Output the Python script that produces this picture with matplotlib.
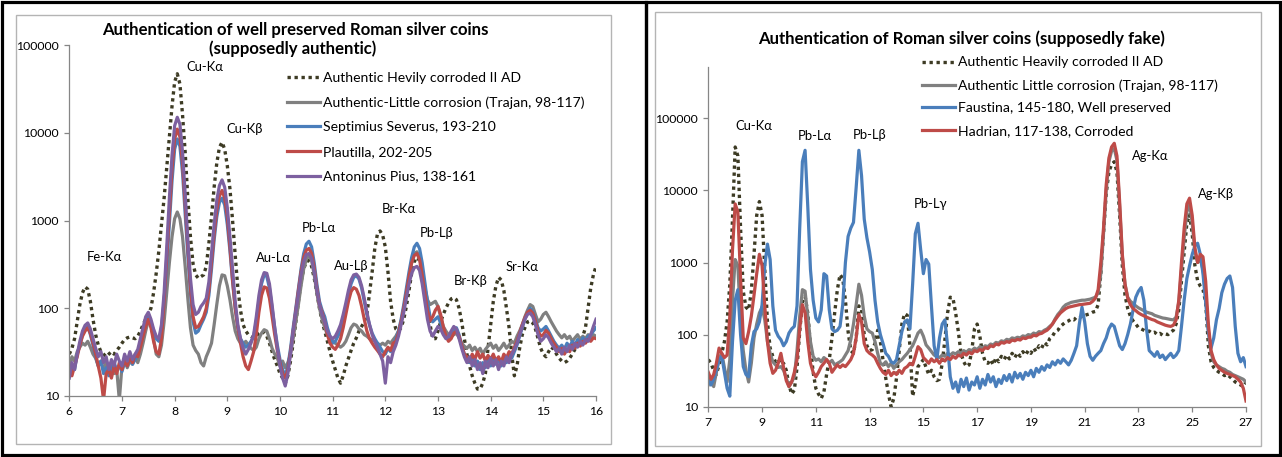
import numpy as np
import matplotlib
matplotlib.use("Agg")
import matplotlib.pyplot as plt
from matplotlib.patches import Rectangle

W, H = 1282, 457
FONT = ['Lato', 'DejaVu Sans']
plt.rcParams['font.family'] = FONT

# ---------------- left chart: 6 - 16 keV, 0.05 keV per channel ----------------
kev_left = np.round(np.arange(6.0, 16.0001, 0.05), 2)

heavy_left = [
    30, 35, 45, 70, 110, 150, 175, 165, 120, 75, 50, 38, 32, 30, 28, 30, 32, 30, 33, 36,
    40, 44, 46, 47, 46, 45, 48, 55, 65, 75, 85, 100, 150, 250, 450, 900, 1800, 4000, 9000, 20000,
    38000, 47000, 36000, 16000, 6000, 1800, 650, 320, 240, 220, 230, 240, 300, 550, 1100, 2400, 4500, 6800, 7800, 6500,
    4200, 2300, 1000, 400, 170, 95, 65, 55, 50, 48, 46, 48, 52, 55, 52, 48, 40, 32, 26, 22,
    18, 16, 14, 17, 25, 40, 70, 120, 200, 280, 340, 350, 300, 220, 150, 100, 70, 55, 42, 32,
    25, 20, 16, 14, 17, 22, 27, 33, 40, 46, 55, 62, 70, 85, 150, 260, 480, 700, 760, 680,
    500, 260, 120, 75, 58, 55, 60, 75, 105, 160, 250, 340, 380, 350, 250, 160, 100, 65, 45, 45,
    55, 70, 85, 100, 115, 128, 132, 125, 100, 70, 45, 30, 22, 17, 14, 12, 12, 14, 18, 35,
    65, 120, 180, 225, 210, 160, 100, 60, 30, 17, 22, 35, 50, 60, 70, 72, 68, 58, 45, 35,
    30, 28, 32, 36, 34, 30, 27, 25, 24, 25, 27, 30, 34, 38, 42, 48, 60, 100, 170, 240,
    300]

trajan_left = [
    22, 28, 25, 32, 36, 40, 38, 42, 36, 30, 27, 22, 25, 20, 24, 19, 22, 18, 20, 9,
    22, 26, 21, 25, 23, 28, 24, 30, 40, 55, 72, 65, 45, 30, 28, 38, 70, 150, 330, 650,
    1050, 1250, 1050, 650, 300, 130, 60, 38, 33, 30, 24, 22, 28, 33, 40, 65, 110, 180, 240, 235,
    180, 125, 80, 55, 45, 40, 38, 42, 38, 35, 33, 36, 45, 52, 57, 55, 45, 35, 30, 27,
    22, 25, 21, 24, 30, 45, 70, 110, 180, 280, 360, 400, 350, 240, 150, 100, 75, 60, 50, 45,
    42, 40, 38, 36, 38, 42, 50, 60, 66, 64, 58, 55, 50, 48, 45, 44, 42, 40, 38, 40,
    38, 42, 40, 44, 48, 55, 70, 100, 150, 230, 330, 420, 440, 380, 260, 170, 125, 110, 115, 120,
    105, 80, 62, 55, 50, 48, 50, 52, 46, 40, 37, 35, 38, 33, 36, 32, 35, 30, 34, 37,
    40, 35, 38, 33, 36, 40, 35, 38, 42, 40, 48, 55, 65, 80, 95, 110, 105, 85, 70, 75,
    85, 90, 80, 70, 62, 55, 50, 46, 50, 45, 48, 42, 46, 50, 44, 48, 45, 50, 46, 50,
    48]

severus_left = [
    18, 22, 20, 30, 38, 50, 58, 62, 50, 38, 28, 22, 25, 18, 21, 17, 20, 24, 20, 22,
    19, 24, 22, 27, 23, 26, 30, 38, 52, 70, 82, 70, 55, 45, 42, 60, 120, 300, 900, 2800,
    6500, 8500, 7000, 3500, 1200, 400, 150, 70, 52, 55, 65, 75, 90, 140, 280, 600, 1100, 1600, 1800, 1500,
    900, 450, 200, 100, 60, 45, 40, 36, 38, 42, 48, 70, 120, 190, 240, 230, 170, 100, 60, 38,
    26, 20, 17, 22, 35, 60, 100, 170, 280, 420, 540, 580, 500, 330, 190, 120, 95, 80, 60, 48,
    40, 42, 48, 55, 70, 95, 140, 190, 225, 235, 215, 170, 120, 85, 65, 52, 45, 40, 36, 32,
    30, 35, 32, 38, 45, 55, 75, 110, 170, 260, 380, 500, 550, 480, 330, 200, 120, 80, 70, 75,
    80, 68, 55, 48, 45, 48, 55, 60, 50, 38, 30, 26, 24, 27, 22, 25, 20, 24, 21, 26,
    22, 27, 23, 26, 22, 28, 24, 30, 27, 32, 38, 48, 60, 75, 90, 100, 92, 75, 60, 55,
    58, 62, 55, 48, 42, 38, 35, 38, 34, 40, 36, 42, 38, 44, 40, 46, 42, 48, 50, 55,
    60]

plautilla_left = [
    20, 17, 22, 28, 38, 48, 55, 60, 52, 40, 30, 22, 16, 9, 18, 20, 16, 22, 18, 24,
    20, 26, 22, 28, 24, 30, 28, 36, 48, 62, 75, 60, 42, 32, 30, 45, 120, 380, 1200, 3800,
    8500, 11000, 9000, 4500, 1500, 480, 170, 80, 60, 62, 70, 80, 100, 160, 330, 700, 1300, 1900, 2200, 1800,
    1100, 500, 210, 100, 60, 40, 28, 22, 20, 25, 32, 50, 90, 140, 175, 170, 130, 80, 50, 33,
    24, 18, 16, 20, 32, 55, 95, 160, 260, 380, 460, 480, 420, 290, 170, 110, 90, 70, 50, 40,
    36, 34, 38, 45, 60, 85, 120, 155, 172, 165, 140, 105, 75, 55, 45, 40, 36, 33, 30, 28,
    32, 36, 33, 40, 42, 52, 70, 100, 150, 230, 330, 400, 420, 360, 240, 150, 95, 72, 80, 95,
    105, 85, 62, 48, 42, 45, 52, 55, 48, 38, 30, 28, 25, 30, 26, 32, 27, 30, 25, 29,
    26, 30, 25, 28, 24, 30, 27, 32, 30, 36, 42, 52, 65, 78, 90, 95, 88, 72, 55, 48,
    50, 56, 52, 45, 40, 36, 32, 35, 30, 34, 32, 38, 35, 40, 37, 42, 40, 44, 42, 46,
    45]

antoninus_left = [
    16, 24, 20, 30, 42, 55, 64, 68, 58, 45, 35, 28, 32, 24, 28, 20, 26, 22, 30, 25,
    22, 30, 25, 32, 26, 30, 34, 45, 60, 80, 90, 75, 58, 48, 45, 65, 150, 500, 1800, 5500,
    12000, 15000, 12500, 6000, 2000, 600, 220, 110, 85, 90, 105, 115, 130, 200, 420, 900, 1700, 2500, 2900, 2400,
    1400, 650, 280, 120, 65, 45, 35, 30, 34, 40, 50, 80, 140, 210, 255, 250, 190, 110, 60, 35,
    22, 16, 13, 18, 30, 55, 90, 150, 240, 340, 410, 420, 370, 260, 160, 110, 85, 70, 55, 48,
    45, 48, 55, 65, 85, 115, 160, 210, 240, 245, 225, 180, 130, 90, 65, 50, 42, 36, 30, 25,
    14, 28, 24, 32, 38, 48, 65, 90, 130, 190, 250, 290, 300, 270, 190, 120, 75, 55, 48, 55,
    62, 58, 50, 45, 48, 55, 62, 58, 45, 35, 28, 24, 28, 22, 26, 20, 24, 18, 25, 21,
    27, 22, 26, 20, 25, 22, 28, 24, 30, 34, 40, 50, 62, 75, 85, 88, 80, 65, 50, 42,
    45, 50, 46, 40, 36, 32, 35, 30, 36, 32, 38, 34, 40, 36, 42, 38, 44, 42, 50, 62,
    75]

peaks_left = ['Fe-K\u03b1', 'Cu-K\u03b1', 'Cu-K\u03b2', 'Au-L\u03b1', 'Pb-L\u03b1',
              'Au-L\u03b2', 'Br-K\u03b1', 'Pb-L\u03b2', 'Br-K\u03b2', 'Sr-K\u03b1']
peaks_left_kev = [6.66, 8.58, 9.33, 9.88, 10.74, 11.35, 12.26, 12.98, 13.63, 14.60]
peaks_left_cnt = [384, 56100, 11000, 374, 822, 303, 1350, 720, 204, 295]

# ---------------- right chart: 7 - 27 keV, 0.1 keV per channel ----------------
kev_right = np.round(np.arange(7.0, 27.0001, 0.1), 1)

heavy_right = [
    45, 40, 32, 28, 38, 55, 80, 150, 500, 4000,
    40000, 30000, 3000, 400, 240, 220, 400, 1300, 4500, 7000,
    4500, 800, 150, 65, 50, 42, 46, 38, 40, 32,
    20, 15, 17, 35, 110, 280, 340, 200, 70, 30,
    18, 15, 13, 16, 28, 45, 90, 200, 420, 680,
    600, 300, 110, 60, 55, 90, 250, 220, 100, 70,
    60, 62, 75, 115, 80, 44, 25, 15, 10, 13,
    25, 60, 140, 195, 185, 70, 14, 20, 36, 40,
    45, 35, 28, 32, 26, 23, 24, 40, 85, 200,
    330, 320, 200, 110, 55, 42, 36, 38, 60, 120,
    140, 95, 55, 42, 40, 45, 38, 48, 42, 50,
    45, 52, 46, 55, 48, 56, 50, 58, 52, 60,
    55, 65, 58, 70, 65, 78, 72, 88, 95, 110,
    115, 130, 140, 150, 155, 165, 160, 175, 170, 180,
    185, 190, 195, 205, 210, 260, 700, 2500, 9000, 18000,
    23000, 25000, 18000, 4500, 900, 350, 230, 180, 155, 140,
    125, 120, 115, 110, 112, 105, 108, 100, 104, 98,
    102, 100, 108, 115, 140, 220, 550, 1400, 3500, 4600,
    2500, 900, 560, 470, 420, 280, 70, 42, 35, 32,
    30, 29, 27, 28, 26, 24, 22, 21, 20, 19,
    22]

trajan_right = [
    20, 24, 19, 30, 45, 55, 35, 22, 45, 300,
    1100, 900, 150, 60, 32, 22, 40, 90, 140, 200,
    240, 160, 80, 55, 42, 38, 35, 36, 32, 25,
    19, 22, 26, 60, 180, 420, 400, 180, 80, 50,
    44, 46, 42, 48, 45, 40, 44, 38, 40, 42,
    45, 52, 60, 85, 140, 260, 500, 350, 180, 120,
    110, 105, 80, 55, 40, 38, 42, 36, 40, 34,
    38, 42, 45, 50, 55, 62, 70, 85, 105, 115,
    95, 72, 65, 58, 52, 50, 48, 52, 50, 55,
    52, 56, 54, 58, 55, 60, 57, 62, 60, 65,
    62, 68, 65, 70, 68, 74, 72, 78, 76, 82,
    80, 86, 84, 90, 88, 92, 90, 96, 94, 100,
    98, 105, 102, 110, 108, 115, 120, 130, 140, 165,
    190, 210, 240, 260, 270, 280, 285, 290, 295, 300,
    300, 305, 310, 320, 330, 380, 700, 2500, 10000, 25000,
    35000, 38000, 26000, 6000, 1200, 500, 330, 290, 270, 250,
    235, 225, 215, 205, 200, 195, 185, 180, 175, 170,
    168, 165, 162, 160, 175, 280, 800, 2200, 5000, 6500,
    3500, 1400, 1000, 1100, 800, 350, 110, 55, 42, 38,
    36, 34, 33, 31, 30, 28, 27, 26, 25, 24,
    22]

faustina_right = [
    25, 20, 24, 32, 45, 50, 30, 18, 14, 80,
    300, 420, 100, 36, 28, 26, 70, 110, 120, 150,
    260, 900, 1800, 1100, 250, 115, 95, 85, 70, 80,
    105, 120, 130, 250, 3000, 25000, 36000, 6000, 800, 300,
    170, 150, 220, 700, 650, 220, 120, 110, 115, 130,
    260, 1000, 2300, 3000, 3600, 11000, 36000, 16000, 4000, 2200,
    1400, 800, 300, 150, 100, 75, 55, 50, 42, 40,
    45, 70, 110, 150, 160, 120, 500, 2500, 3500, 1500,
    700, 1100, 950, 250, 70, 45, 90, 140, 160, 70,
    26, 18, 22, 16, 24, 19, 25, 17, 22, 20,
    26, 18, 24, 20, 28, 22, 26, 19, 24, 21,
    27, 23, 28, 22, 30, 25, 29, 24, 30, 27,
    32, 26, 34, 30, 36, 32, 38, 35, 42, 38,
    44, 40, 46, 42, 38, 44, 55, 70, 140, 240,
    150, 75, 50, 44, 50, 55, 60, 75, 90, 120,
    140, 130, 95, 70, 62, 75, 100, 140, 220, 330,
    400, 450, 300, 120, 60, 55, 50, 58, 48, 52,
    45, 50, 55, 48, 52, 60, 130, 300, 600, 900,
    1300, 1700, 1850, 1300, 700, 280, 110, 65, 90, 160,
    230, 380, 500, 600, 650, 450, 130, 55, 42, 48,
    36]

hadrian_right = [
    30, 24, 28, 40, 65, 55, 48, 52, 180, 1500,
    6500, 5000, 600, 90, 75, 110, 180, 350, 700, 1300,
    900, 250, 80, 40, 29, 32, 40, 55, 35, 23,
    19, 22, 30, 45, 120, 260, 200, 80, 40, 30,
    26, 30, 36, 40, 45, 40, 30, 34, 38, 35,
    38, 36, 40, 45, 55, 90, 190, 150, 75, 60,
    55, 52, 48, 40, 34, 30, 28, 32, 27, 30,
    28, 32, 29, 34, 36, 40, 38, 50, 68, 62,
    48, 44, 40, 46, 42, 45, 40, 46, 43, 48,
    45, 50, 47, 52, 50, 55, 52, 57, 54, 60,
    58, 62, 60, 66, 64, 70, 68, 74, 72, 78,
    76, 80, 78, 84, 82, 86, 84, 90, 88, 92,
    92, 98, 96, 102, 104, 110, 115, 125, 140, 160,
    180, 200, 215, 230, 240, 245, 250, 255, 260, 262,
    265, 268, 272, 290, 320, 420, 1000, 3000, 12000, 28000,
    40000, 45000, 30000, 7000, 1300, 500, 320, 260, 230, 215,
    200, 190, 182, 175, 168, 162, 158, 150, 145, 140,
    135, 132, 130, 135, 160, 300, 1000, 3000, 6500, 7800,
    4500, 1600, 1000, 1300, 1200, 550, 140, 60, 45, 38,
    34, 32, 30, 29, 28, 27, 26, 24, 22, 18,
    12]

peaks_right = ['Cu-K\u03b1', 'Pb-L\u03b1', 'Pb-L\u03b2', 'Pb-L\u03b3', 'Ag-K\u03b1', 'Ag-K\u03b2']
peaks_right_kev = [8.70, 10.97, 13.01, 15.28, 23.42, 25.87]
peaks_right_cnt = [78200, 56800, 58600, 6460, 30000, 8900]

# colours
C_DOT = '#3d3b24'
C_GREY = '#808080'
C_BLUE = '#4a7ebb'
C_RED = '#be4b48'
C_PURPLE = '#7d60a0'

TICK_FS = 8.8
PEAK_FS = 9.4
LEG_FS = 10.1
TITLE_FS = 12.1


def fx(px):
    return px / W


def fy(py):
    return 1 - py / H


fig = plt.figure(figsize=(W / 100, H / 100), dpi=100)

# panel frames
bg = fig.add_axes([0, 0, 1, 1], zorder=-5)
bg.set_xlim(0, W)
bg.set_ylim(H, 0)
bg.axis('off')
bg.add_patch(Rectangle((1.5, 1.5), 644, 453, fill=False, ec='black', lw=2.3))
bg.add_patch(Rectangle((646, 1.5), 634, 453, fill=False, ec='black', lw=2.3))
bg.add_patch(Rectangle((16, 15), 595, 429, fill=False, ec='#b4b4b4', lw=1))
bg.add_patch(Rectangle((655, 12), 606, 434, fill=False, ec='#b4b4b4', lw=1))


def style_axes(ax):
    ax.set_yscale('log')
    for s in ['top', 'right']:
        ax.spines[s].set_visible(False)
    for s in ['left', 'bottom']:
        ax.spines[s].set_color('#868686')
        ax.spines[s].set_linewidth(0.9)
    ax.tick_params(which='major', length=3.5, width=0.9, color='#868686',
                   labelsize=TICK_FS, pad=4)
    ax.tick_params(which='minor', length=0)
    ax.set_yticks([10, 100, 1000, 10000, 100000])
    ax.set_yticklabels(['10', '100', '1000', '10000', '100000'])
    ax.patch.set_alpha(0)


dotted = dict(color=C_DOT, lw=2.4, linestyle=(0, (1.0, 1.1)))
solid = dict(lw=2.3, solid_joinstyle='round')
leg_kw = dict(frameon=False, fontsize=LEG_FS, handlelength=2.35, handletextpad=0.2,
              borderpad=0, borderaxespad=0, bbox_transform=fig.transFigure, loc='upper left')

# ---- left ----
ax1 = fig.add_axes([fx(69.3), fy(396), (596 - 69.3) / W, (396 - 45) / H])
ax1.plot(kev_left, heavy_left, label='Authentic Hevily corroded II AD', **dotted)
ax1.plot(kev_left, trajan_left, color=C_GREY, label='Authentic-Little corrosion (Trajan, 98-117)', **solid)
ax1.plot(kev_left, severus_left, color=C_BLUE, label='Septimius Severus, 193-210', **solid)
ax1.plot(kev_left, plautilla_left, color=C_RED, label='Plautilla, 202-205', **solid)
ax1.plot(kev_left, antoninus_left, color=C_PURPLE, label='Antoninus Pius, 138-161', **solid)
style_axes(ax1)
ax1.set_xlim(6, 16)
ax1.set_ylim(10, 100000)
ax1.set_xticks(range(6, 17))
for name, xk, yc in zip(peaks_left, peaks_left_kev, peaks_left_cnt):
    ax1.text(xk, yc, name, ha='center', va='center', fontsize=PEAK_FS, family=FONT)
ax1.legend(bbox_to_anchor=(fx(287), fy(71.5)), labelspacing=0.9, **leg_kw)
fig.text(fx(295), fy(30), 'Authentication of well preserved Roman silver coins',
         ha='center', va='center', fontsize=TITLE_FS, fontweight='bold')
fig.text(fx(292.5), fy(48.5), '(supposedly authentic)',
         ha='center', va='center', fontsize=TITLE_FS, fontweight='bold')

# ---- right ----
ytop = 10 ** (1 + (406.7 - 67) / 72.1)
ax2 = fig.add_axes([fx(708.3), fy(406.7), (1246 - 708.3) / W, (406.7 - 67) / H])
ax2.plot(kev_right, heavy_right, label='Authentic Heavily corroded II AD', **dotted)
ax2.plot(kev_right, trajan_right, color=C_GREY, label='Authentic Little corrosion (Trajan, 98-117)', **solid)
ax2.plot(kev_right, faustina_right, color=C_BLUE, label='Faustina, 145-180, Well preserved', **solid)
ax2.plot(kev_right, hadrian_right, color=C_RED, label='Hadrian, 117-138, Corroded', **solid)
style_axes(ax2)
ax2.set_xlim(7, 27)
ax2.set_ylim(10, ytop)
ax2.set_xticks(range(7, 28, 2))
for name, xk, yc in zip(peaks_right, peaks_right_kev, peaks_right_cnt):
    ax2.text(xk, yc, name, ha='center', va='center', fontsize=PEAK_FS, family=FONT)
ax2.legend(bbox_to_anchor=(fx(922), fy(56.5)), labelspacing=0.76, **leg_kw)
fig.text(fx(962), fy(39), 'Authentication of Roman silver coins (supposedly fake)',
         ha='center', va='center', fontsize=TITLE_FS, fontweight='bold')

fig.savefig('out.png', dpi=100, facecolor='white')
